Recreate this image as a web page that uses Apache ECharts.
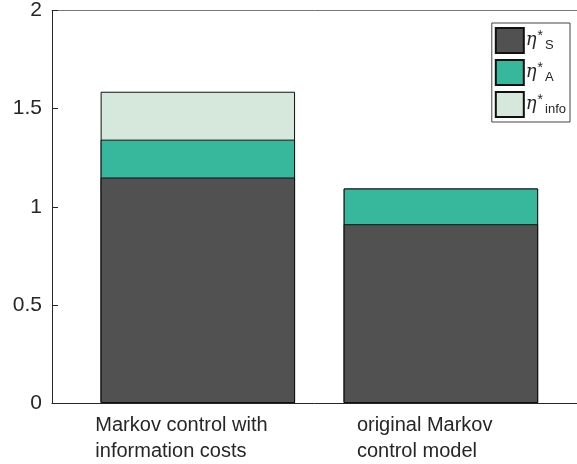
<!DOCTYPE html>
<html>
<head>
<meta charset="utf-8">
<script src="https://cdn.jsdelivr.net/npm/echarts@6/dist/echarts.min.js"></script>
<style>html,body{margin:0;padding:0;background:#fff;}#c{width:577px;height:464px;}</style>
</head>
<body>
<div id="c"></div>
<script>
const categories = ['Markov control with\ninformation costs', 'original Markov\ncontrol model'];
const positions = [1, 2];
const etaS = [1.149, 0.911];
const etaA = [0.193, 0.182];
const etaInfo = [0.244, 0];
const seriesNames = ['S', 'A', 'info'];
const yTicks = [0, 0.5, 1, 1.5, 2];

const chart = echarts.init(document.getElementById('c'), null, {renderer: 'canvas'});
const font = 'Liberation Sans, Arial, Helvetica, sans-serif';
const colors = ['#515151', '#37b89c', '#d6e8dc'];
const vals = [etaS, etaA, etaInfo];

// cumulative tops (stacking done here since x is a value axis)
const cum = [];
vals.forEach((arr, i) => {
  cum.push(arr.map((v, j) => (i ? cum[i - 1][j] : 0) + v));
});

const labelWidths = [205, 168];

chart.setOption({
  animation: false,
  backgroundColor: '#fff',
  grid: {left: 52, top: 10, bottom: 61, right: 0, containLabel: false},
  xAxis: [{
    type: 'value', min: 0.4, max: 2.56,
    axisLine: {show: true, onZero: false, lineStyle: {color: '#262626', width: 1}},
    axisTick: {show: false},
    splitLine: {show: false},
    axisLabel: {
      customValues: positions,
      color: '#262626', fontFamily: font, fontSize: 20, margin: 9,
      formatter: function (v) {
        const idx = positions.indexOf(Math.round(v));
        if (idx < 0) return '';
        return categories[idx].split('\n').map(s => '{l' + idx + '|' + s + '}').join('\n');
      },
      rich: {
        l0: {fontFamily: font, fontSize: 20, lineHeight: 26, color: '#262626', align: 'left', width: labelWidths[0]},
        l1: {fontFamily: font, fontSize: 20, lineHeight: 26, color: '#262626', align: 'left', width: labelWidths[1]}
      }
    }
  }, {
    type: 'value', min: 0.4, max: 2.56, position: 'top',
    axisLine: {show: true, onZero: false, lineStyle: {color: '#777', width: 1}},
    axisTick: {show: false}, axisLabel: {show: false}, splitLine: {show: false}
  }],
  yAxis: {
    type: 'value', min: yTicks[0], max: yTicks[yTicks.length - 1], interval: 0.5,
    axisLine: {show: true, lineStyle: {color: '#262626', width: 1}},
    axisTick: {show: true, inside: true, length: 6, lineStyle: {color: '#262626'}},
    splitLine: {show: false},
    axisLabel: {color: '#262626', fontFamily: font, fontSize: 21, margin: 10}
  },
  legend: {
    orient: 'vertical', right: 7, top: 23,
    backgroundColor: '#fff', borderColor: '#444', borderWidth: 1,
    padding: [4, 4, 4, 3], itemWidth: 28, itemHeight: 25, itemGap: 5,
    icon: 'rect',
    data: seriesNames.map(n => 'eta_' + n),
    formatter: function (name) {
      const sub = name.replace('eta_', '');
      return '{e|η}{s|*}{b|' + sub + '}';
    },
    textStyle: {
      width: 46,
      rich: {
        e: {fontFamily: 'DejaVu Serif, Liberation Serif, serif', fontStyle: 'italic', fontSize: 18, lineHeight: 26, color: '#262626', verticalAlign: 'middle', padding: [0, 0, 0, -3]},
        s: {fontFamily: font, fontSize: 14, lineHeight: 26, color: '#262626', verticalAlign: 'top', padding: [2, 0, 0, 1]},
        b: {fontFamily: font, fontSize: 13, lineHeight: 26, color: '#262626', verticalAlign: 'bottom', padding: [0, 0, 2, 2]}
      }
    }
  },
  series: vals.map((arr, i) => ({
    name: 'eta_' + seriesNames[i],
    type: 'bar', barWidth: '80%', barGap: '-100%',
    z: 10 - i,
    data: cum[i].map((v, j) => [positions[j], v]),
    itemStyle: {color: colors[i], borderColor: '#111', borderWidth: 1}
  }))
});
</script>
</body>
</html>
